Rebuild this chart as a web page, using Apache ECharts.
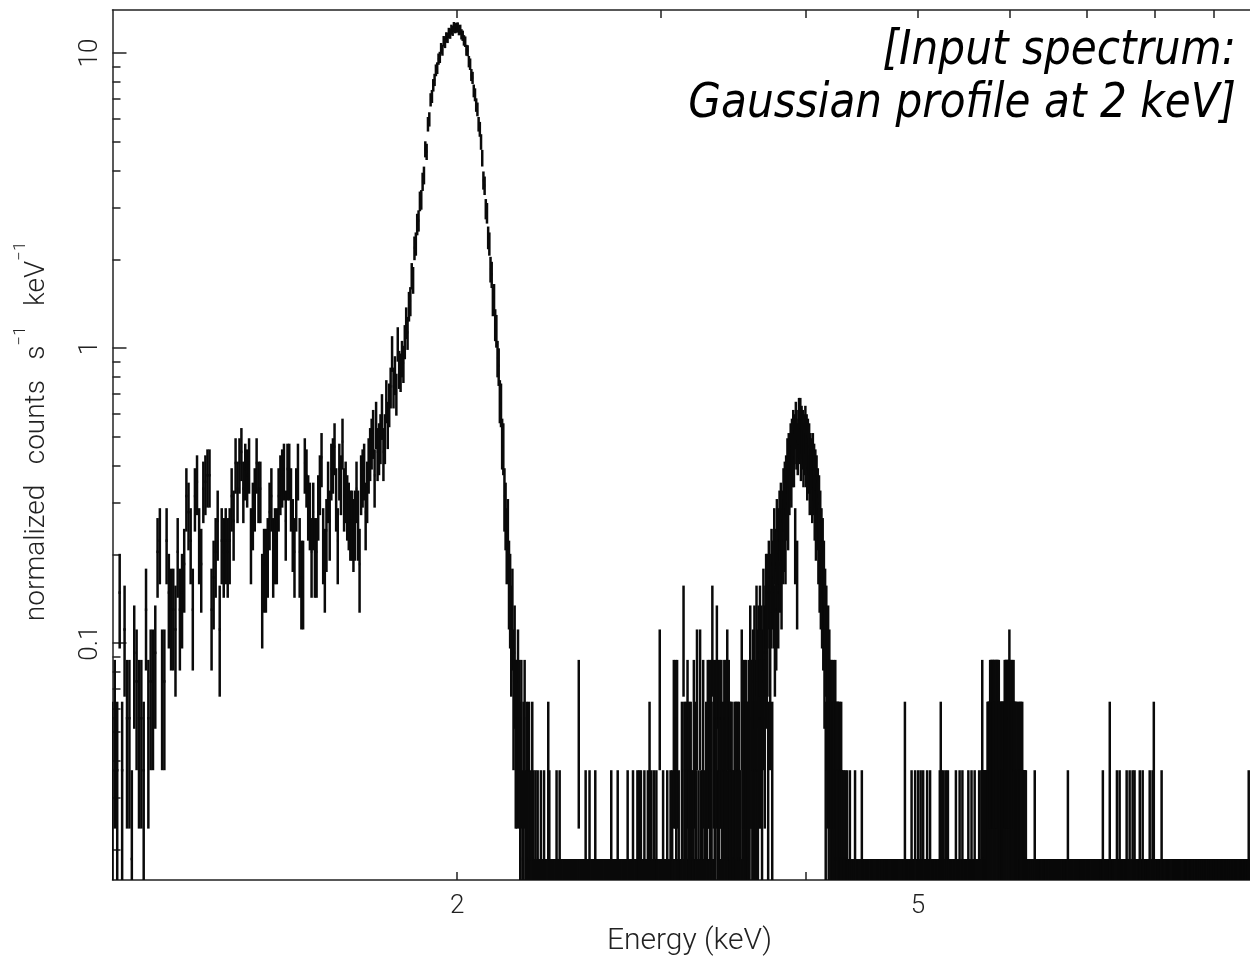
<!DOCTYPE html>
<html><head><meta charset="utf-8">
<script src="https://cdn.jsdelivr.net/npm/echarts@6/dist/echarts.min.js"></script>
<style>html,body{margin:0;padding:0;background:#fff}#c{width:1250px;height:956px}</style>
</head><body><div id="c"></div>
<script>
// ---- channel grid (5 eV channels from 1.00 keV) ----
const CH_START = 1.0;
const CH_WIDTH = 0.005;
const N_CH = 1800;
// one detected count per channel, in normalized counts s^-1 keV^-1
const COUNT_UNIT = 0.01854;

// counts per channel, 1.00–2.40 keV (each row = 0.05 keV)
const countsLow = [
  2, 2, 3, 2, 8, 2, 6, 3, 3, 1,
  5, 4, 3, 3, 2, 7, 3, 4, 4, 5,
  11, 12, 4, 4, 12, 8, 7, 7, 6, 11,
  7, 8, 10, 17, 15, 12, 7, 17, 19, 12,
  10, 18, 19, 20, 20, 7, 9, 11, 14, 6,
  12, 11, 12, 11, 12, 17, 14, 22, 18, 22,
  24, 18, 21, 20, 22, 12, 15, 17, 22, 18,
  18, 8, 10, 10, 11, 15, 17, 11, 12, 12,
  17, 19, 20, 21, 14, 21, 21, 17, 13, 11,
  17, 21, 11, 9, 9, 22, 20, 16, 15, 11,
  15, 11, 11, 16, 19, 23, 12, 10, 13, 18,
  14, 21, 22, 25, 17, 12, 21, 19, 26, 17,
  18, 16, 15, 14, 14, 13, 14, 18, 14, 10,
  19, 20, 21, 15, 18, 22, 24, 26, 28, 20,
  30, 24, 25, 27, 32, 24, 27, 36, 30, 35,
  40, 52, 40, 44, 38, 56, 46, 45, 50, 48,
  57, 66, 61, 75, 78, 95, 92, 118, 122, 142,
  146, 170, 172, 198, 208, 255, 250, 310, 322, 375,
  385, 420, 438, 472, 480, 515, 522, 560, 552, 592,
  585, 610, 608, 632, 628, 648, 642, 662, 655, 658,
  660, 645, 648, 625, 618, 596, 590, 552, 550, 505,
  495, 455, 445, 402, 390, 360, 348, 310, 298, 270,
  238, 200, 192, 160, 155, 128, 122, 100, 96, 78,
  80, 65, 62, 50, 47, 36, 35, 26, 25, 17,
  15, 12, 13, 9, 8, 6, 7, 4, 5, 3,
  3, 4, 3, 2, 3, 1, 2, 3, 1, 2,
  1, 2, 0, 1, 2, 1, 0, 1, 0, 1,
  0, 0, 1, 0, 0, 1, 0, 0, 0, 2
];
const countsLowStart = 0;

// counts per channel, 2.90–4.40 keV, second bump near 3.9 keV
const countsMid = [
  1, 0, 0, 0, 1, 0, 2, 0, 1, 0,
  0, 1, 0, 0, 1, 0, 0, 0, 4, 0,
  0, 0, 1, 0, 0, 0, 0, 1, 0, 0,
  0, 1, 0, 1, 0, 3, 0, 3, 1, 3,
  0, 1, 0, 0, 0, 2, 0, 6, 2, 0,
  2, 0, 3, 1, 2, 0, 2, 1, 0, 1,
  3, 0, 2, 1, 4, 0, 1, 0, 4, 1,
  0, 1, 3, 0, 1, 0, 2, 1, 3, 0,
  3, 1, 3, 2, 6, 0, 3, 1, 2, 3,
  5, 1, 3, 2, 3, 0, 3, 1, 2, 0,
  3, 1, 3, 2, 4, 1, 3, 2, 2, 0,
  2, 1, 1, 0, 2, 1, 2, 0, 2, 1,
  2, 1, 1, 0, 4, 2, 3, 1, 3, 2,
  3, 2, 2, 1, 3, 2, 5, 3, 3, 2,
  4, 2, 5, 3, 2, 6, 4, 2, 5, 3,
  6, 3, 5, 2, 4, 7, 5, 3, 6, 8,
  5, 8, 2, 9, 6, 4, 8, 10, 2, 9,
  8, 12, 6, 10, 7, 13, 9, 8, 12, 14,
  10, 15, 9, 14, 12, 17, 13, 18, 12, 19,
  16, 22, 15, 23, 19, 21, 25, 20, 26, 23,
  28, 23, 27, 12, 30, 26, 9, 25, 28, 31,
  27, 31, 24, 29, 26, 28, 23, 27, 25, 29,
  23, 27, 21, 26, 22, 25, 19, 23, 20, 22,
  18, 23, 19, 21, 16, 20, 14, 19, 15, 17,
  12, 16, 10, 14, 9, 12, 8, 11, 7, 9,
  5, 7, 2, 6, 4, 3, 5, 2, 4, 3,
  3, 2, 3, 2, 2, 3, 2, 1, 3, 2,
  2, 1, 2, 2, 1, 2, 1, 0, 2, 1,
  1, 0, 1, 0, 0, 1, 0, 0, 1, 0,
  0, 0, 0, 1, 0, 0, 0, 0, 0, 0
];
const countsMidStart = 380;

// counts per channel, 5.67–6.21 keV, small cluster near 5.9 keV
const countsCluster = [
  1, 0, 3, 1, 1, 0, 1, 1, 0, 1,
  0, 1, 1, 0, 2, 1, 2, 2, 2, 1,
  3, 2, 3, 3, 2, 3, 3, 2, 3, 3,
  3, 2, 2, 3, 3, 3, 2, 3, 3, 2,
  3, 2, 2, 1, 2, 2, 1, 2, 2, 2,
  2, 1, 2, 2, 3, 3, 2, 3, 3, 2,
  3, 3, 3, 2, 3, 4, 3, 2, 2, 3,
  2, 2, 3, 2, 2, 3, 2, 2, 1, 2,
  2, 1, 1, 2, 1, 0, 1, 2, 1, 1,
  2, 0, 1, 2, 1, 1, 2, 1, 0, 1,
  1, 0, 1, 1, 0, 1, 0, 0
];
const countsClusterStart = 934;

// isolated non-empty channels elsewhere: [energy keV, counts]; all other channels are empty
const sparseHits = [
  [2.401, 1], [2.439, 1], [2.454, 1], [2.549, 3], [2.584, 1], [2.600, 1], [2.632, 1],
  [2.716, 1], [2.754, 1], [2.809, 1], [2.837, 1], [2.860, 1], [2.872, 1], [2.883, 1],
  [4.410, 1], [4.473, 1], [4.872, 2], [4.937, 1], [4.970, 1], [5.003, 1], [5.027, 1],
  [5.053, 1], [5.093, 1], [5.121, 1], [5.222, 1], [5.232, 2], [5.243, 1], [5.264, 1],
  [5.285, 1], [5.306, 1], [5.391, 1], [5.434, 1], [5.463, 1], [5.525, 1], [5.562, 1],
  [5.599, 1], [5.647, 1], [6.309, 1], [6.737, 1], [7.222, 1], [7.323, 2], [7.425, 1],
  [7.469, 1], [7.572, 1], [7.618, 1], [7.663, 1], [7.694, 1], [7.771, 1], [7.817, 1],
  [7.927, 1], [7.974, 1], [7.990, 2], [8.118, 1], [9.653, 1]
];

// axes
const X_MIN = 1.008, X_MAX = 10;
const Y_MIN = 0.01574, Y_MAX = 14.0;
const xTickValues = [2, 3, 4, 5, 6, 7, 8, 9];
const xLabelValues = [2, 5];
const xLabelTexts = ['2', '5'];
const yMajorValues = [0.1, 1, 10];
const yMajorTexts = ['0.1', '1', '10'];
const yMinorValues = [0.02, 0.03, 0.04, 0.05, 0.06, 0.07, 0.08, 0.09,
  0.2, 0.3, 0.4, 0.5, 0.6, 0.7, 0.8, 0.9, 2, 3, 4, 5, 6, 7, 8, 9];

// ---- build the channel table ----
const counts = new Array(N_CH).fill(0);
countsLow.forEach((n, i) => { counts[countsLowStart + i] = n; });
countsMid.forEach((n, i) => { counts[countsMidStart + i] = n; });
countsCluster.forEach((n, i) => { counts[countsClusterStart + i] = n; });
sparseHits.forEach(([e, n]) => { counts[Math.floor((e - CH_START) / CH_WIDTH + 1e-6)] = n; });

// rows: [energy, value, lower, upper]; Poisson errors, empty channels get a one-count upper bar
const rows = counts.map((n, i) => {
  const e = CH_START + CH_WIDTH * (i + 0.5);
  const v = n * COUNT_UNIT;
  const err = (n > 0 ? Math.sqrt(n) : 1) * COUNT_UNIT;
  return [e, v, v - err, v + err];
});

function pick(vals, texts, v) {
  let best = 0, d = Infinity;
  vals.forEach((x, i) => { const dd = Math.abs(Math.log(x) - Math.log(v)); if (dd < d) { d = dd; best = i; } });
  return texts[best];
}

const FONT = 'Roboto';
const INK = '#0a0a0a';
const labelStyle = { fontFamily: FONT, fontWeight: 300, fontSize: 26, color: '#222' };
const axisLineStyle = { color: '#222', width: 1.5 };

const chart = echarts.init(document.getElementById('c'), null, { renderer: 'canvas' });
chart.setOption({
  animation: false,
  backgroundColor: '#fff',
  grid: { left: 112.5, top: 10, width: 1154, height: 870, containLabel: false, outerBoundsMode: 'none' },
  xAxis: [
    {
      type: 'log', min: X_MIN, max: X_MAX, position: 'bottom',
      axisLine: { show: true, onZero: false, lineStyle: axisLineStyle },
      axisTick: { show: true, inside: true, length: 8, customValues: xTickValues, lineStyle: axisLineStyle },
      axisLabel: { show: true, customValues: xLabelValues, margin: 13, ...labelStyle,
        formatter: v => pick(xLabelValues, xLabelTexts, v) },
      splitLine: { show: false },
      name: 'Energy (keV)', nameLocation: 'middle', nameGap: 46,
      nameTextStyle: { ...labelStyle, fontSize: 30 }
    },
    {
      type: 'log', min: X_MIN, max: X_MAX, position: 'top',
      axisLine: { show: true, onZero: false, lineStyle: axisLineStyle },
      axisTick: { show: true, inside: true, length: 8, customValues: xTickValues, lineStyle: axisLineStyle },
      axisLabel: { show: false },
      splitLine: { show: false }
    }
  ],
  yAxis: [
    {
      type: 'log', min: Y_MIN, max: Y_MAX, position: 'left',
      axisLine: { show: true, onZero: false, lineStyle: axisLineStyle },
      axisTick: { show: true, inside: true, length: 14, customValues: yMajorValues, lineStyle: axisLineStyle },
      axisLabel: { show: true, customValues: yMajorValues, rotate: 90, margin: 9, ...labelStyle,
        formatter: v => pick(yMajorValues, yMajorTexts, v) },
      splitLine: { show: false },
      name: '{n|    normalized   counts   s}{sup|−1}{n|   keV}{sup|−1}',
      nameLocation: 'middle', nameRotate: 90, nameGap: 62,
      nameTextStyle: {
        ...labelStyle, fontSize: 28,
        rich: {
          n: { fontFamily: FONT, fontWeight: 300, fontSize: 28, color: '#222', lineHeight: 38, verticalAlign: 'bottom' },
          sup: { fontFamily: FONT, fontWeight: 300, fontSize: 17, color: '#222', lineHeight: 17, verticalAlign: 'top' }
        }
      }
    },
    {
      type: 'log', min: Y_MIN, max: Y_MAX, position: 'left',
      axisLine: { show: false },
      axisTick: { show: true, inside: true, length: 8, customValues: yMinorValues, lineStyle: axisLineStyle },
      axisLabel: { show: false },
      splitLine: { show: false }
    }
  ],
  graphic: [{
    type: 'text', x: 1236, y: 25, scaleX: 0.88, scaleY: 1, z: 100,
    style: {
      x: 0, y: 0,
      text: '[Input spectrum:\nGaussian profile at 2 keV]',
      fontFamily: 'DejaVu Sans', fontStyle: 'italic', fontSize: 48, lineHeight: 53,
      fill: '#000', align: 'right', verticalAlign: 'top'
    }
  }],
  series: [{
    type: 'custom', xAxisIndex: 0, yAxisIndex: 0, clip: true,
    data: rows,
    encode: { x: 0, y: 1 },
    renderItem(params, api) {
      const e = api.value(0), v = api.value(1), lo = api.value(2), hi = api.value(3);
      const loC = lo > Y_MIN ? lo : Y_MIN * 0.8;
      const pTop = api.coord([e, hi]);
      const pBot = api.coord([e, loC]);
      const st = { stroke: INK, lineWidth: 2.5 };
      const children = [{ type: 'line', shape: { x1: pTop[0], y1: pTop[1], x2: pBot[0], y2: pBot[1] }, style: st }];
      if (v > 0) {
        const pl = api.coord([e - CH_WIDTH / 2, v]);
        const pr = api.coord([e + CH_WIDTH / 2, v]);
        children.push({ type: 'line', shape: { x1: pl[0], y1: pl[1], x2: pr[0], y2: pr[1] }, style: st });
      }
      return { type: 'group', children };
    }
  }]
});
</script></body></html>
